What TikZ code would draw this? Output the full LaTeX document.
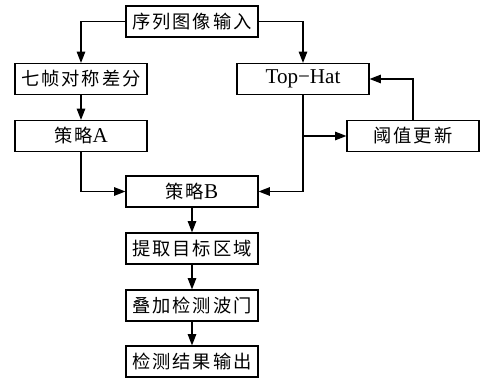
\documentclass[tikz,border=0pt]{standalone}
\usepackage{fontspec}
\setmainfont{Liberation Serif}
\newfontfamily\cjk[LetterSpace=10]{Noto Sans CJK SC}
\usetikzlibrary{positioning, arrows.meta}

\begin{document}
\begin{tikzpicture}[x=0.025cm, y=-0.025cm,
    boxstyle/.style={draw,line width=0.8pt,minimum width=3.3cm,minimum height=0.775cm,inner sep=0pt,font=\fontsize{13}{15}\selectfont},
    flow/.style={line width=0.9pt,-{Triangle[length=0.28cm,width=0.21cm]}}]
  \useasboundingbox (0,0) rectangle (481,379);

  \node [boxstyle] (in)   at (192,21.5)  {\cjk 序列图像输入};
  \node [boxstyle] (diff) at (81,79)     {\cjk 七帧对称差分};
  \node [boxstyle] (top)  at (303,79)    {\fontsize{15}{17}\selectfont Top−Hat};
  \node [boxstyle] (A)    at (81,136)    {{\cjk 策略}\fontsize{15}{17}\selectfont A};
  \node [boxstyle] (upd)  at (413,136)   {\cjk 阈值更新};
  \node [boxstyle] (B)    at (192,191.5) {{\cjk 策略}\fontsize{15}{17}\selectfont B};
  \node [boxstyle] (ext)  at (192,248.5) {\cjk 提取目标区域};
  \node [boxstyle] (gate) at (192,305.5) {\cjk 叠加检测波门};
  \node [boxstyle] (out)  at (192,361.5) {\cjk 检测结果输出};

  \draw [flow] (in.west) -| (diff.north);
  \draw [flow] (in.east) -| (top.north);
  \draw [flow] (diff) -- (A);
  \draw [flow] (A.south) |- (B.west);
  \draw [flow] (top.south) |- (B.east);
  \coordinate (br) at (top.south |- upd.west);
  \draw [flow] (br) -- (upd.west);
  \draw [flow] (upd.north) |- (top.east);

  \foreach \a/\b in {B/ext, ext/gate, gate/out}
    \draw [flow] (\a) -- (\b);

\end{tikzpicture}
\end{document}
